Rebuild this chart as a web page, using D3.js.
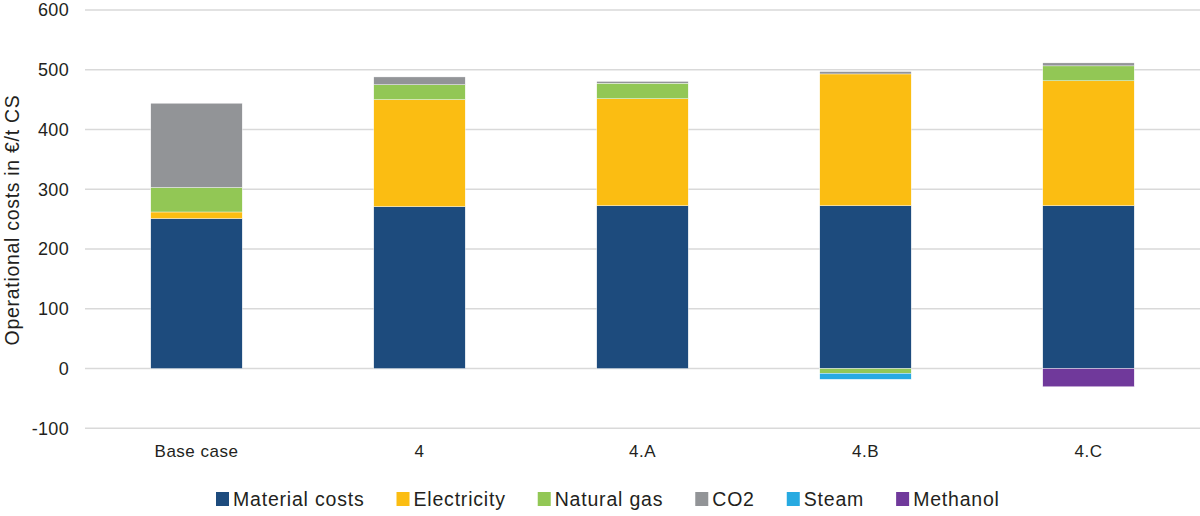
<!DOCTYPE html>
<html>
<head>
<meta charset="utf-8">
<script src="https://cdn.jsdelivr.net/npm/d3@7"></script>
<style>
  body { margin: 0; background: white; }
  text { font-family: "Liberation Sans", Arial, sans-serif; fill: #231f20; }
</style>
</head>
<body>
<div class="chart"></div>
<script>
var categories = ['Base case', '4', '4.A', '4.B', '4.C'];
var seriesNames = ['Material costs', 'Electricity', 'Natural gas', 'CO2', 'Steam', 'Methanol'];
var seriesColors = ['#1d4b7d', '#fbbd12', '#92c755', '#929497', '#27aae1', '#70399b'];

var materialCosts = [251, 271, 272.5, 272.5, 272.5];
var electricity   = [11, 179, 179, 220.5, 209];
var naturalGas    = [41, 25, 26, -8, 25];
var co2           = [141, 13, 3, 4, 5];
var steam         = [0, 0, 0, -10, 0];
var methanol      = [0, 0, 0, 0, -30.5];

var yTicks = [-100, 0, 100, 200, 300, 400, 500, 600];

var seriesValues = [materialCosts, electricity, naturalGas, co2, steam, methanol];

const W = 1200, H = 516;

const svg = d3.select('.chart')
    .append('svg')
        .attr('width', W)
        .attr('height', H)
        .style('background', 'white');

const x = d3.scaleBand().domain(categories).range([85, 1200]).padding(0);
const y = d3.scaleLinear().domain([-100, 600]).range([428.3, 10]);
const barW = x.bandwidth() * 0.41;

// gridlines
svg.append('g')
    .selectAll('line')
    .data(yTicks)
    .enter()
        .append('line')
        .attr('x1', 85)
        .attr('x2', 1200)
        .attr('y1', d => y(d))
        .attr('y2', d => y(d))
        .attr('stroke', '#d9d9d9')
        .attr('stroke-width', 1.5);

// y tick labels
svg.append('g')
    .selectAll('text')
    .data(yTicks)
    .enter()
        .append('text')
        .attr('x', 69)
        .attr('y', d => y(d))
        .attr('dy', '0.35em')
        .attr('text-anchor', 'end')
        .style('font-size', '18px')
        .style('letter-spacing', '0.3px')
        .text(d => d);

// y title
svg.append('text')
    .attr('transform', 'translate(19, 220) rotate(-90)')
    .attr('text-anchor', 'middle')
    .style('font-size', '19.5px')
    .style('letter-spacing', '0.7px')
    .text('Operational costs in €/t CS');

// stacks: positives upward, negatives downward
const rects = [];
categories.forEach((c, i) => {
  let pos = 0, neg = 0;
  seriesValues.forEach((vals, s) => {
    const v = vals[i];
    if (v > 0) { rects.push({ c: c, s: s, y0: pos, y1: pos + v }); pos += v; }
    else if (v < 0) { rects.push({ c: c, s: s, y0: neg + v, y1: neg }); neg += v; }
  });
});

svg.append('g')
    .selectAll('rect')
    .data(rects)
    .enter()
        .append('rect')
        .attr('x', d => x(d.c) + (x.bandwidth() - barW) / 2)
        .attr('width', barW)
        .attr('y', d => y(d.y1))
        .attr('height', d => y(d.y0) - y(d.y1))
        .attr('fill', d => seriesColors[d.s])
        .attr('stroke', 'white')
        .attr('stroke-width', 0.4);

// category labels
svg.append('g')
    .selectAll('text')
    .data(categories)
    .enter()
        .append('text')
        .attr('x', d => x(d) + x.bandwidth() / 2)
        .attr('y', 457)
        .attr('text-anchor', 'middle')
        .style('font-size', '17px')
        .style('letter-spacing', '0.5px')
        .text(d => d);

// legend, laid out left to right from measured text widths
const leg = svg.append('g')
    .selectAll('g')
    .data(seriesNames)
    .enter()
        .append('g');

leg.append('rect')
    .attr('x', 0)
    .attr('y', -7)
    .attr('width', 13)
    .attr('height', 14)
    .attr('fill', (d, i) => seriesColors[i]);

leg.append('text')
    .attr('x', 17)
    .attr('dy', '0.36em')
    .style('font-size', '19.5px')
    .style('letter-spacing', '0.8px')
    .text(d => d);

let lx = 216;
leg.each(function() {
  const g = d3.select(this);
  g.attr('transform', 'translate(' + lx + ', 499)');
  lx += 17 + g.select('text').node().getComputedTextLength() + 32;
});
</script>
</body>
</html>
